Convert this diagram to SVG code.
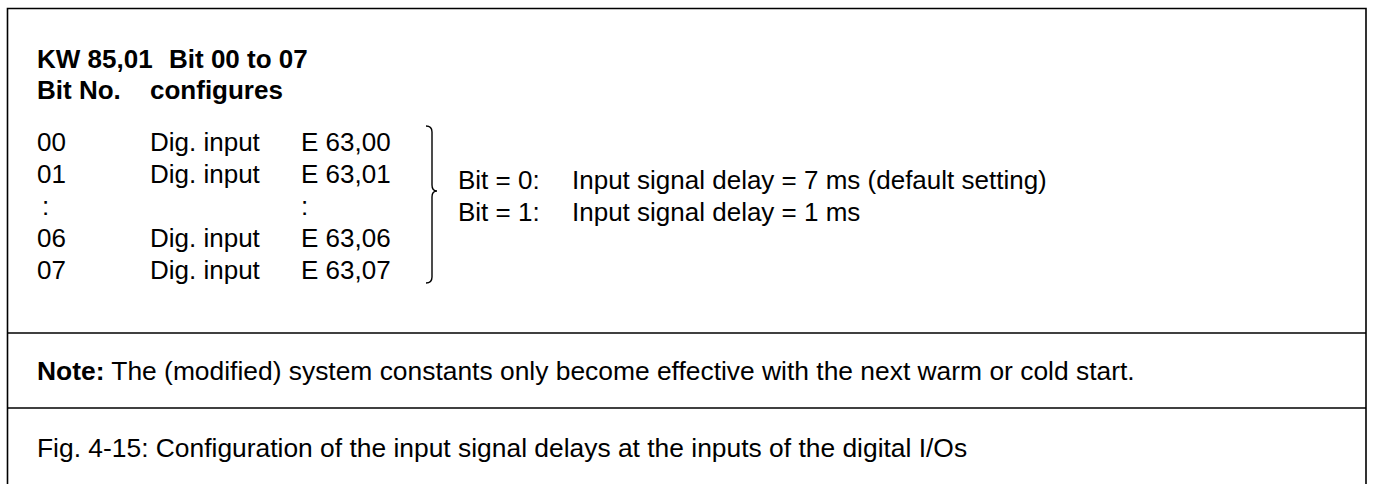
<svg xmlns="http://www.w3.org/2000/svg" width="1373" height="484" viewBox="0 0 1373 484">
<style>
  .t { font-family: "Liberation Sans", Arial, sans-serif; font-size: 26px; fill: #000; }
  .w { font-size: 26.4px; }
  .b { font-weight: bold; }
  .frame { fill: none; stroke: #000; stroke-width: 1.6; }
  .brace { fill: none; stroke: #000; stroke-width: 1.4; }
</style>
<rect x="0" y="0" width="1373" height="484" fill="#fff"/>
<g id="frame">
  <path class="frame" d="M7.5 490 V8.5 H1366 V490"/>
  <line class="frame" x1="7.5" y1="333" x2="1366" y2="333"/>
  <line class="frame" x1="7.5" y1="408" x2="1366" y2="408"/>
</g>
<g id="header">
  <text class="t b" x="37" y="68">KW 85,01<tspan x="169">Bit 00 to 07</tspan></text>
  <text class="t b" x="37" y="99">Bit No.<tspan x="150">configures</tspan></text>
</g>
<g id="table">
  <text class="t" x="37" y="151">00<tspan x="150">Dig. input</tspan><tspan x="301">E 63,00</tspan></text>
  <text class="t" x="37" y="183">01<tspan x="150">Dig. input</tspan><tspan x="301">E 63,01</tspan></text>
  <text class="t" x="42" y="215">:<tspan x="301">:</tspan></text>
  <text class="t" x="37" y="247">06<tspan x="150">Dig. input</tspan><tspan x="301">E 63,06</tspan></text>
  <text class="t" x="37" y="279">07<tspan x="150">Dig. input</tspan><tspan x="301">E 63,07</tspan></text>
</g>
<g id="connectors">
  <path class="brace" d="M426 126 Q432 126 432 132 V185 Q432 191 437 191 Q432 191 432 197 V277 Q432 283 426 283"/>
</g>
<g id="meaning">
  <text class="t" x="458" y="189">Bit = 0:<tspan x="572">Input signal delay = 7 ms (default setting)</tspan></text>
  <text class="t" x="458" y="221">Bit = 1:<tspan x="572">Input signal delay = 1 ms</tspan></text>
</g>
<g id="note">
  <text class="t w" x="37" y="380"><tspan class="b">Note:</tspan> The (modified) system constants only become effective with the next warm or cold start.</text>
</g>
<g id="caption">
  <text class="t w" x="37" y="457">Fig. 4-15: Configuration of the input signal delays at the inputs of the digital I/Os</text>
</g>
</svg>
